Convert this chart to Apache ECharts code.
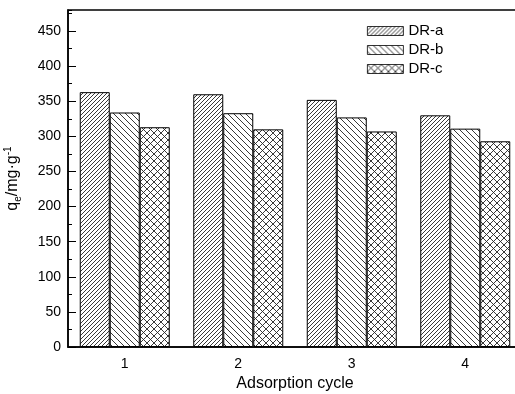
<!DOCTYPE html>
<html>
<head>
<meta charset="utf-8">
<script src="https://cdn.jsdelivr.net/npm/echarts@6/dist/echarts.min.js"></script>
<style>
html, body { margin: 0; padding: 0; background: #fff; }
#main { width: 515px; height: 394px; }
</style>
</head>
<body>
<div id="main"></div>
<script>
var cycles = ['1', '2', '3', '4'];
var drA = [363, 360, 352, 330];
var drB = [334, 333, 327, 311];
var drC = [313, 310, 307, 293];

// hatch fill tiles
function hatch(size, slash, back) {
    var c = document.createElement('canvas');
    c.width = size; c.height = size;
    var ctx = c.getContext('2d');
    ctx.fillStyle = '#fff';
    ctx.fillRect(0, 0, size, size);
    ctx.strokeStyle = '#222';
    ctx.lineWidth = 0.9;
    ctx.beginPath();
    if (slash) {
        ctx.moveTo(-1, size + 1); ctx.lineTo(size + 1, -1);
        ctx.moveTo(-1, 1); ctx.lineTo(1, -1);
        ctx.moveTo(size - 1, size + 1); ctx.lineTo(size + 1, size - 1);
    }
    if (back) {
        ctx.moveTo(-1, -1); ctx.lineTo(size + 1, size + 1);
        ctx.moveTo(size - 1, -1); ctx.lineTo(size + 1, 1);
        ctx.moveTo(-1, size - 1); ctx.lineTo(1, size + 1);
    }
    ctx.stroke();
    return { image: c, repeat: 'repeat' };
}

var font = 'Liberation Sans';

window.onload = function () {
    var myChart = echarts.init(document.getElementById('main'));
    var option = {
        animation: false,
        textStyle: { fontFamily: font },
        grid: {
            left: 68, right: -7, top: 10, bottom: 47,
            containLabel: false,
            outerBoundsMode: 'none',
            show: true, borderColor: '#000', borderWidth: 1.5
        },
        legend: {
            orient: 'vertical',
            left: 367, top: 23,
            padding: 0,
            icon: 'rect',
            itemWidth: 36, itemHeight: 9, itemGap: 3,
            itemStyle: { borderWidth: 0.8, borderColor: '#000' },
            textStyle: { fontSize: 15, color: '#000', lineHeight: 16, fontFamily: font },
            data: ['DR-a', 'DR-b', 'DR-c']
        },
        xAxis: [{
            type: 'category',
            data: cycles,
            name: 'Adsorption cycle',
            nameLocation: 'middle',
            nameGap: 29,
            nameTextStyle: { fontSize: 16, color: '#000', fontFamily: font },
            axisLine: { lineStyle: { color: '#000', width: 1.5 } },
            axisTick: { inside: true, length: 4, lineStyle: { color: '#000' } },
            axisLabel: { fontSize: 14, color: '#000', margin: 10 }
        }, {
            type: 'category',
            data: cycles,
            position: 'bottom',
            axisLine: { show: false },
            axisTick: { inside: true, length: 7, alignWithLabel: true, lineStyle: { color: '#000' } },
            axisLabel: { show: false }
        }],
        yAxis: [{
            type: 'value',
            min: 0, max: 480, interval: 50,
            name: '{a|q}{s|e}{a|/mg·g}{p|-1}',
            nameLocation: 'middle',
            nameRotate: 90,
            nameGap: 42,
            nameTextStyle: {
                color: '#000',
                rich: {
                    a: { fontSize: 16, color: '#000', fontFamily: font, lineHeight: 26, verticalAlign: 'middle' },
                    s: { fontSize: 10, color: '#000', fontFamily: font, lineHeight: 26, verticalAlign: 'bottom', padding: [0, 0, 3, 0] },
                    p: { fontSize: 10, color: '#000', fontFamily: font, lineHeight: 26, verticalAlign: 'top', padding: [3, 0, 0, 0] }
                }
            },
            splitLine: { show: false },
            axisLine: { show: true, lineStyle: { color: '#000', width: 1.5 } },
            axisTick: { show: true, inside: true, length: 8, lineStyle: { color: '#000' } },
            axisLabel: {
                fontSize: 14, color: '#000', margin: 7, showMaxLabel: false
            }
        }, {
            type: 'value',
            min: 0, max: 480, interval: 25,
            position: 'left',
            splitLine: { show: false },
            axisLine: { show: false },
            axisTick: { show: true, inside: true, length: 4, lineStyle: { color: '#000' } },
            axisLabel: { show: false }
        }],
        series: [{
            name: 'DR-a', type: 'bar', data: drA,
            barWidth: 30, barGap: '0%',
            itemStyle: { color: hatch(4, true, false), borderColor: '#000', borderWidth: 1 }
        }, {
            name: 'DR-b', type: 'bar', data: drB,
            barWidth: 30, barGap: '0%',
            itemStyle: { color: hatch(6, false, true), borderColor: '#000', borderWidth: 1 }
        }, {
            name: 'DR-c', type: 'bar', data: drC,
            barWidth: 30, barGap: '0%',
            itemStyle: { color: hatch(7, true, true), borderColor: '#000', borderWidth: 1 }
        }]
    };
    myChart.setOption(option);
};
</script>
</body>
</html>
